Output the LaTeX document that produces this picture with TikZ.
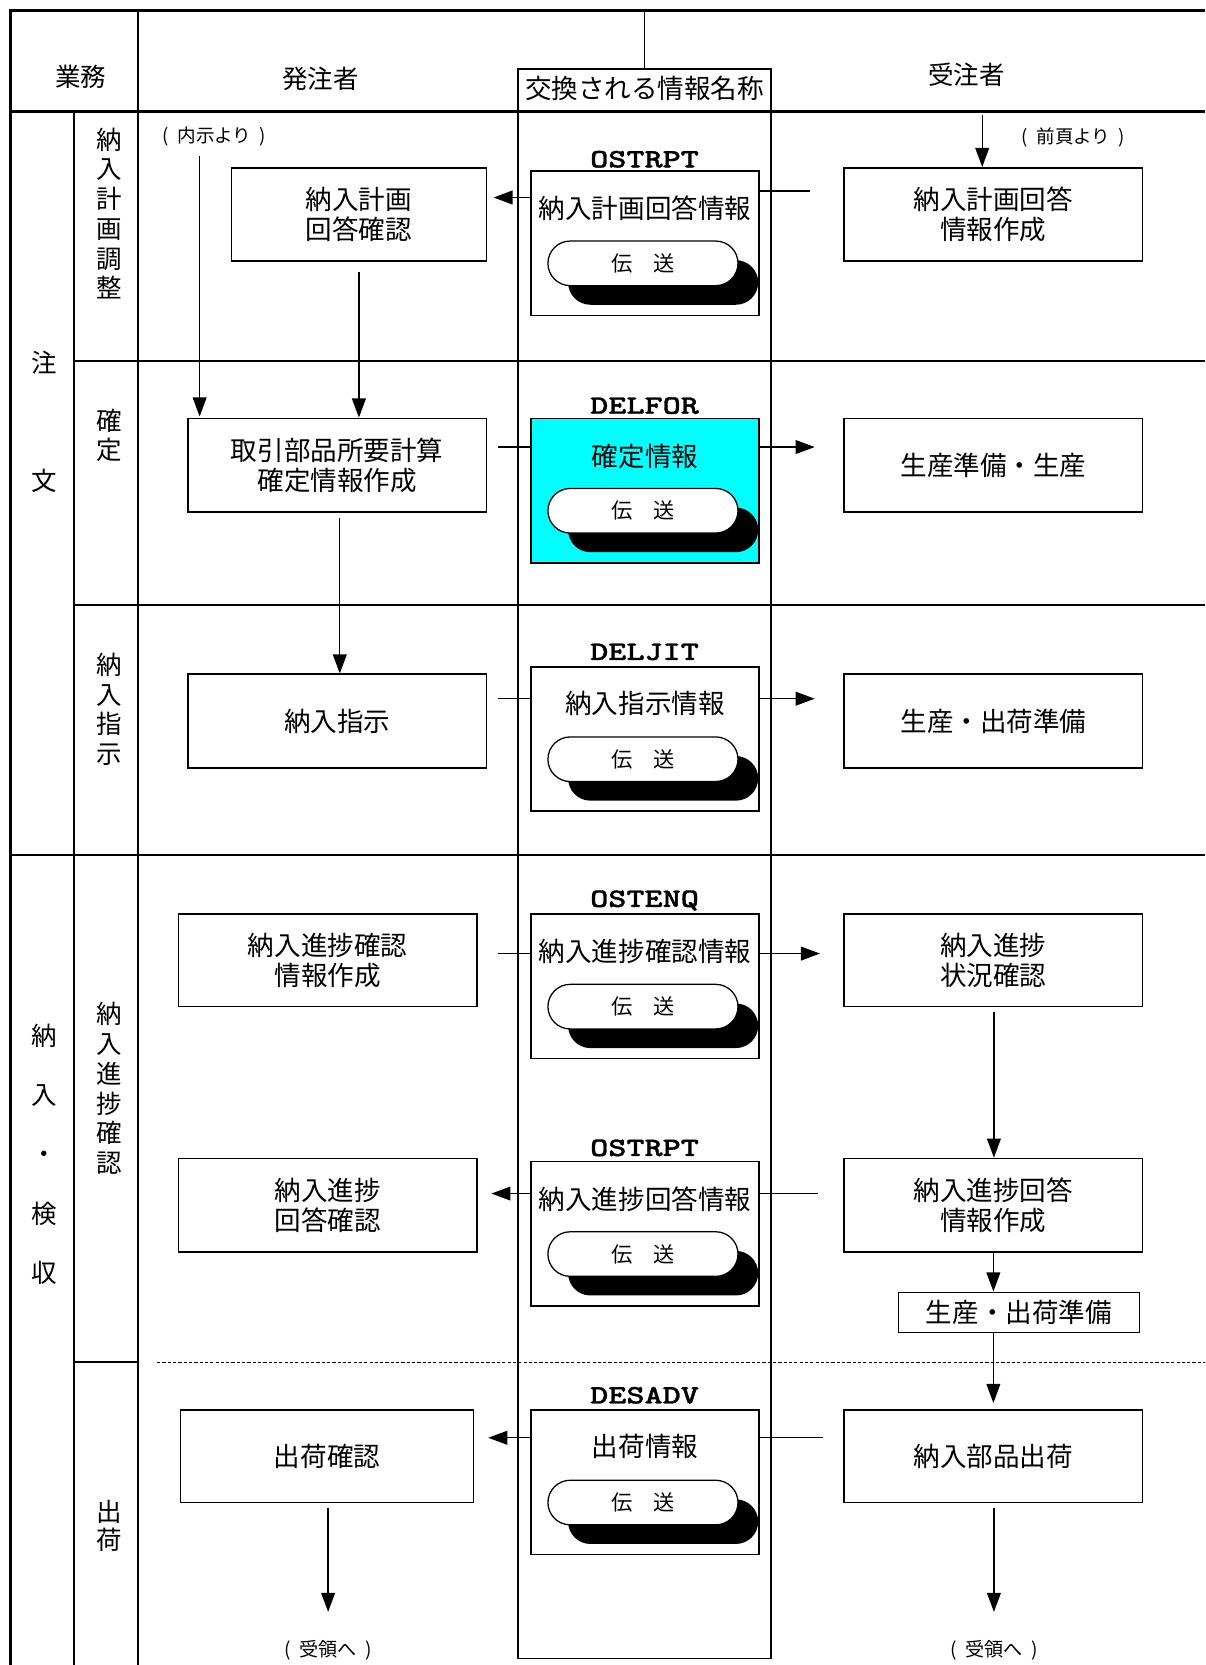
\documentclass[tikz,border=0pt]{standalone}
\usepackage{fontspec}
\setmainfont{Noto Sans CJK JP}
\newfontfamily\codefont{lmmonolt10-bold.otf}[FakeStretch=1.3, FakeBold=1.2]
\usetikzlibrary{arrows.meta,shapes.misc,shadows,calc}
\definecolor{infocyan}{RGB}{0,255,255}
\newcommand{\msgcode}[1]{{\codefont #1}}
\newcommand{\paren}[1]{(\hspace{0.45em}#1\hspace{0.45em})}
\begin{document}
\begin{tikzpicture}[x=1pt,y=-1pt,
  frameK/.style={line width=2.6pt},
  frameM/.style={line width=1.7pt},
  midcol/.style={line width=1.4pt},
  box/.style={draw, line width=1.5pt, align=center, inner sep=0pt,
    font=\fontsize{25}{28.5}\selectfont},
  info/.style={draw, line width=1.5pt, minimum width=215pt, minimum height=136pt, inner sep=0pt},
  infotext/.style={inner sep=0pt, font=\fontsize{25}{28}\selectfont},
  codelab/.style={inner sep=0pt, font=\fontsize{25}{25}\selectfont},
  pill/.style={rounded rectangle, draw, line width=1.2pt, fill=white,
    minimum width=179pt, minimum height=42pt, inner sep=0pt,
    font=\fontsize{20}{20}\selectfont,
    drop shadow={shadow xshift=19pt, shadow yshift=-18pt, fill=black, opacity=1}},
  hdr/.style={inner sep=0pt, font=\fontsize{24}{24}\selectfont},
  vlab/.style={inner sep=0pt, align=center, font=\fontsize{24}{28}\selectfont},
  note/.style={inner sep=0pt, font=\fontsize{17.5}{17.5}\selectfont},
  conn/.style={line width=1.3pt},
  arr/.style={line width=1.3pt, -{Triangle[length=18pt,width=13pt]}}
]
\useasboundingbox (0,0) rectangle (1135,1568);

% ---------- frame ----------
\draw[frameK] (10,1568) -- (10,10) -- (1135,10);
\draw[frameK] (10,105) -- (1135,105);
\draw[frameM] (130,10) -- (130,1568);
\draw[frameM] (70,105) -- (70,1568);
\draw[frameM] (70,340) -- (1135,340);
\draw[frameM] (70,570) -- (1135,570);
\draw[frameM] (10,805) -- (1135,805);
\draw[frameM] (70,1283) -- (130,1283);
\draw[line width=1pt, dash pattern=on 3pt off 2pt] (148,1283) -- (1135,1283);
\draw[midcol] (488,65) rectangle (726,1562);
\draw[midcol] (607,10) -- (607,65);

% ---------- headers ----------
\node[hdr] (hGyomu) at (76,72) {業務};
\node[hdr] (hHatchu) at (302,74) {発注者};
\node[hdr, font=\fontsize{25}{25}\selectfont] (hKokan) at (607,83) {交換される情報名称};
\node[hdr] (hJuchu) at (910,70) {受注者};

% ---------- left labels ----------
\node[vlab, font=\fontsize{24}{111}\selectfont] (gChumon) at (42,397) {注\\文};
\node[vlab, font=\fontsize{24}{56}\selectfont] (gNonyu) at (42,1087) {納\\入\\・\\検\\収};
\node[vlab] (l1) at (103,201) {納\\入\\計\\画\\調\\整};
\node[vlab] (l2) at (103,410) {確\\定};
\node[vlab] (l3) at (103,668) {納\\入\\指\\示};
\node[vlab] (l4) at (103,1025) {納\\入\\進\\捗\\確\\認};
\node[vlab, font=\fontsize{24}{27}\selectfont] (l5) at (103,1437) {出\\荷};

% ---------- orderer boxes ----------
\node[box, minimum width=240pt, minimum height=88pt] (b1) at (338,202) {納入計画\\回答確認};
\node[box, minimum width=281pt, minimum height=88pt] (b2) at (317.5,438) {取引部品所要計算\\確定情報作成};
\node[box, minimum width=281pt, minimum height=88pt] (b3) at (317.5,679) {納入指示};
\node[box, minimum width=281pt, minimum height=87pt] (b4) at (308.5,904.5) {納入進捗確認\\情報作成};
\node[box, minimum width=281pt, minimum height=88pt] (b5) at (308.5,1135) {納入進捗\\回答確認};
\node[box, minimum width=276pt, minimum height=87pt] (b6) at (308,1371.5) {出荷確認};

% ---------- supplier boxes ----------
\node[box, minimum width=281pt, minimum height=88pt] (r1) at (935.5,202) {納入計画回答\\情報作成};
\node[box, minimum width=281pt, minimum height=88pt] (r2) at (935.5,438) {生産準備・生産};
\node[box, minimum width=281pt, minimum height=88pt] (r3) at (935.5,679) {生産・出荷準備};
\node[box, minimum width=281pt, minimum height=87pt] (r4) at (935.5,904.5) {納入進捗\\状況確認};
\node[box, minimum width=281pt, minimum height=88pt] (r5) at (935.5,1135) {納入進捗回答\\情報作成};
\node[box, minimum width=227pt, minimum height=38pt] (r5b) at (959.5,1236) {生産・出荷準備};
\node[box, minimum width=281pt, minimum height=87pt] (r6) at (935.5,1371.5) {納入部品出荷};

% ---------- information boxes ----------
\node[info] (m1) at (607.5,229) {};
\node[info, fill=infocyan] (m2) at (607.5,462) {};
\node[info] (m3) at (607.5,696) {};
\node[info] (m4) at (607.5,929) {};
\node[info] (m5) at (607.5,1162) {};
\node[info] (m6) at (607.5,1396) {};

\node[codelab] (k1) at (607,150) {\msgcode{OSTRPT}};
\node[codelab] (k2) at (607,382) {\msgcode{DELFOR}};
\node[codelab] (k3) at (607,614) {\msgcode{DELJIT}};
\node[codelab] (k4) at (607,848) {\msgcode{OSTENQ}};
\node[codelab] (k5) at (607,1081) {\msgcode{OSTRPT}};
\node[codelab] (k6) at (607,1314) {\msgcode{DESADV}};

\node[infotext] (t1) at (607.5,196) {納入計画回答情報};
\node[infotext] (t2) at (607.5,430) {確定情報};
\node[infotext] (t3) at (607.5,662) {納入指示情報};
\node[infotext] (t4) at (607.5,896) {納入進捗確認情報};
\node[infotext] (t5) at (607.5,1129) {納入進捗回答情報};
\node[infotext] (t6) at (607.5,1362) {出荷情報};

\node[pill] (p1) at (605.5,248) {伝　送};
\node[pill] (p2) at (605.5,481) {伝　送};
\node[pill] (p3) at (605.5,715) {伝　送};
\node[pill] (p4) at (605.5,948) {伝　送};
\node[pill] (p5) at (605.5,1181) {伝　送};
\node[pill] (p6) at (605.5,1415) {伝　送};

% ---------- notes ----------
\node[note] (nNaiji) at (202,129) {\paren{内示より}};
\node[note] (nZenpei) at (1011,129) {\paren{前頁より}};
\node[note, font=\fontsize{18}{18}\selectfont] (nJuryoL) at (309,1554) {\paren{受領へ}};
\node[note, font=\fontsize{18}{18}\selectfont] (nJuryoR) at (936,1554) {\paren{受領へ}};

% ---------- connectors ----------
% row 1
\coordinate (c1L) at (500,186);
\draw[arr, shorten >=6pt] (c1L) -- (c1L -| b1.east);
\coordinate (c1R) at (715,180);
\coordinate (c1Re) at (763,180);
\draw[conn] (c1R) -- (c1Re);
\coordinate (zenS) at (925,108);
\draw[arr] (zenS) -- (zenS |- r1.north);
\coordinate (naiS) at (188,147);
\draw[arr, shorten >=1pt] (naiS) -- (naiS |- b2.north);
\coordinate (b1s) at (338,256);
\draw[arr] (b1s) -- (b1s |- b2.north);
% row 2
\coordinate (c2a) at (469,421);
\draw[conn] (c2a) -- (c2a -| m2.west);
\draw[arr, shorten >=27pt] (c2a -| m2.east) -- (c2a -| r2.west);
\coordinate (b2s) at (320,488);
\draw[arr] (b2s) -- (b2s |- b3.north);
% row 3
\coordinate (c3a) at (469,658);
\draw[conn] (c3a) -- (c3a -| m3.west);
\draw[arr, shorten >=27pt] (c3a -| m3.east) -- (c3a -| r3.west);
% row 4
\coordinate (c4a) at (469,898);
\draw[conn] (c4a) -- (c4a -| m4.west);
\draw[arr, shorten >=22pt] (c4a -| m4.east) -- (c4a -| r4.west);
\coordinate (r4s) at (936,953);
\draw[arr] (r4s) -- (r4s |- r5.north);
% row 5
\coordinate (c5L) at (500,1124);
\draw[arr, shorten >=13pt] (c5L) -- (c5L -| b5.east);
\coordinate (c5R) at (715,1124);
\coordinate (c5Re) at (770,1124);
\draw[conn] (c5R) -- (c5Re);
\draw[arr] (r5.south) -- (r5.south |- r5b.north);
\draw[arr, shorten >=6pt] (r5.south |- r5b.south) -- (r5.south |- r6.north);
% row 6
\coordinate (c6L) at (500,1354);
\draw[arr, shorten >=13pt] (c6L) -- (c6L -| b6.east);
\coordinate (c6R) at (715,1354);
\coordinate (c6Re) at (775,1354);
\draw[conn] (c6R) -- (c6Re);
\coordinate (b6s) at (309,1420);
\coordinate (b6e) at (309,1518);
\draw[arr] (b6s) -- (b6e);
\coordinate (r6s) at (936,1420);
\coordinate (r6e) at (936,1518);
\draw[arr] (r6s) -- (r6e);
\end{tikzpicture}
\end{document}
